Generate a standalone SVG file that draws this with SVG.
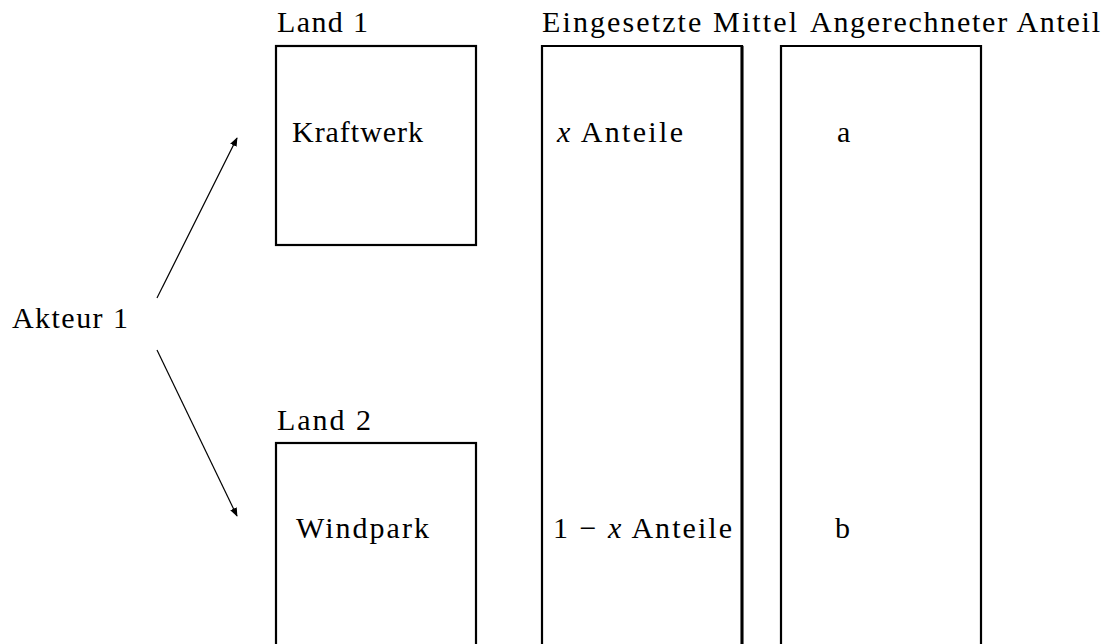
<svg xmlns="http://www.w3.org/2000/svg" width="1102" height="644" viewBox="0 0 1102 644">
  <style>
    text { font-family: "Liberation Serif", "Times New Roman", serif; font-size: 30px; fill: #000; }
    .box { fill: none; stroke: #000; stroke-width: 2.2; }
    .conn { fill: none; stroke: #000; stroke-width: 1.2; }
    .it { font-style: italic; }
  </style>
  <defs>
    <marker id="arrow" viewBox="0 0 10 10" refX="9" refY="5" markerWidth="9" markerHeight="9" markerUnits="userSpaceOnUse" orient="auto">
      <path d="M0,1 L10,5 L0,9 Z" fill="#000"/>
    </marker>
  </defs>
  <rect width="1102" height="644" fill="#fff"/>

  <g id="akteur1">
    <text x="12" y="328" textLength="116" lengthAdjust="spacing">Akteur 1</text>
  </g>

  <g id="land1">
    <text x="277" y="32" textLength="91" lengthAdjust="spacing">Land 1</text>
    <rect class="box" x="276" y="46" width="200" height="199"/>
    <text x="292" y="142" textLength="131" lengthAdjust="spacing">Kraftwerk</text>
  </g>

  <g id="land2">
    <text x="277" y="430" textLength="94" lengthAdjust="spacing">Land 2</text>
    <rect class="box" x="276" y="443" width="200" height="220"/>
    <text x="296" y="538" textLength="133" lengthAdjust="spacing">Windpark</text>
  </g>

  <g id="mittel">
    <text x="542" y="32" textLength="255" lengthAdjust="spacing">Eingesetzte Mittel</text>
    <path class="box" d="M542,660 V46 H742 V660"/>
    <path d="M742,46 V660" stroke="#000" stroke-width="3" fill="none"/>
    <text x="557" y="142" textLength="126" lengthAdjust="spacing"><tspan class="it">x</tspan> Anteile</text>
    <text x="553" y="538" textLength="179" lengthAdjust="spacing">1 − <tspan class="it">x</tspan> Anteile</text>
  </g>

  <g id="anteil">
    <text x="810" y="32" textLength="290" lengthAdjust="spacing">Angerechneter Anteil</text>
    <path class="box" d="M781,660 V46 H981 V660"/>
    <text x="837" y="142">a</text>
    <text x="835" y="538">b</text>
  </g>

  <g id="connectors">
    <line class="conn" x1="157" y1="298" x2="237" y2="138" marker-end="url(#arrow)"/>
    <line class="conn" x1="157" y1="350" x2="237" y2="516" marker-end="url(#arrow)"/>
  </g>
</svg>
